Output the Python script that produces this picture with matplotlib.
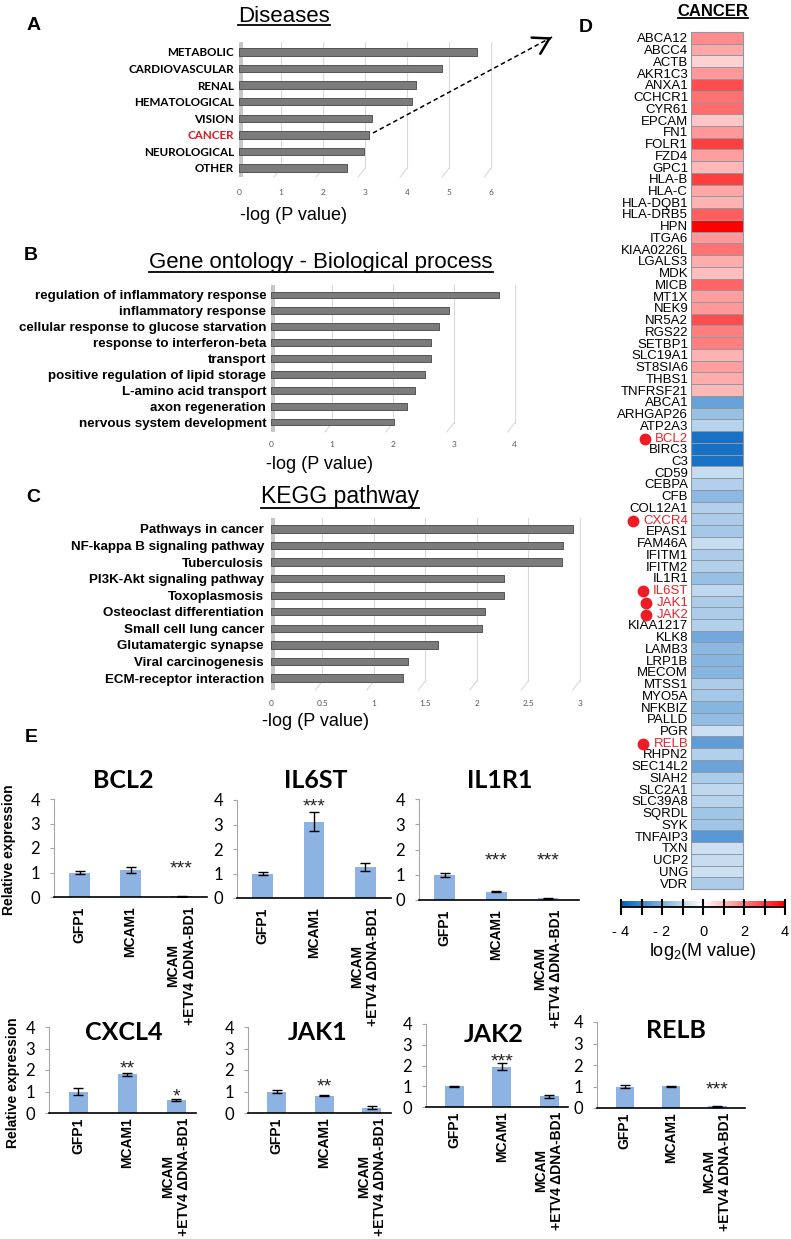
import numpy as np
import matplotlib
matplotlib.use('Agg')
import matplotlib.pyplot as plt
from matplotlib.colors import LinearSegmentedColormap
from matplotlib.lines import Line2D
from matplotlib.patches import FancyArrowPatch

# ---- data ----
disease_names = ['METABOLIC', 'CARDIOVASCULAR', 'RENAL', 'HEMATOLOGICAL',
                 'VISION', 'CANCER', 'NEUROLOGICAL', 'OTHER']
disease_vals = [5.66, 4.83, 4.21, 4.11, 3.17, 3.08, 2.98, 2.58]

go_terms = ['regulation of inflammatory response', 'inflammatory response',
            'cellular response to glucose starvation', 'response to interferon-beta',
            'transport', 'positive regulation of lipid storage',
            'L-amino acid transport', 'axon regeneration', 'nervous system development']
go_vals = [3.75, 2.92, 2.76, 2.62, 2.62, 2.53, 2.37, 2.23, 2.02]

kegg_terms = ['Pathways in cancer', 'NF-kappa B signaling pathway', 'Tuberculosis',
              'PI3K-Akt signaling pathway', 'Toxoplasmosis', 'Osteoclast differentiation',
              'Small cell lung cancer', 'Glutamatergic synapse', 'Viral carcinogenesis',
              'ECM-receptor interaction']
kegg_vals = [2.93, 2.84, 2.83, 2.26, 2.26, 2.08, 2.05, 1.62, 1.33, 1.28]

genes_up = ['ABCA12', 'ABCC4', 'ACTB', 'AKR1C3', 'ANXA1', 'CCHCR1', 'CYR61', 'EPCAM',
            'FN1', 'FOLR1', 'FZD4', 'GPC1', 'HLA-B', 'HLA-C', 'HLA-DQB1', 'HLA-DRB5',
            'HPN', 'ITGA6', 'KIAA0226L', 'LGALS3', 'MDK', 'MICB', 'MT1X', 'NEK9',
            'NR5A2', 'RGS22', 'SETBP1', 'SLC19A1', 'ST8SIA6', 'THBS1', 'TNFRSF21']
m_up = [1.8, 1.4, 0.7, 1.6, 2.8, 2.2, 2.3, 0.9, 1.6, 3.0, 1.5, 1.1, 3.0, 1.4, 1.2,
        2.5, 4.0, 1.6, 2.2, 1.3, 1.0, 2.4, 1.5, 1.6, 2.8, 2.0, 2.0, 1.2, 1.5, 1.3, 1.1]
genes_down = ['ABCA1', 'ARHGAP26', 'ATP2A3', 'BCL2', 'BIRC3', 'C3', 'CD59', 'CEBPA',
              'CFB', 'COL12A1', 'CXCR4', 'EPAS1', 'FAM46A', 'IFITM1', 'IFITM2', 'IL1R1',
              'IL6ST', 'JAK1', 'JAK2', 'KIAA1217', 'KLK8', 'LAMB3', 'LRP1B', 'MECOM',
              'MTSS1', 'MYO5A', 'NFKBIZ', 'PALLD', 'PGR', 'RELB', 'RHPN2', 'SEC14L2',
              'SIAH2', 'SLC2A1', 'SLC39A8', 'SQRDL', 'SYK', 'TNFAIP3', 'TXN', 'UCP2',
              'UNG', 'VDR']
m_down = [-2.4, -1.6, -1.1, -3.6, -3.6, -3.6, -0.9, -1.2, -1.8, -1.2, -1.3, -1.4,
          -0.9, -1.3, -1.2, -1.6, -1.0, -1.3, -1.3, -1.2, -2.2, -1.8, -1.9, -1.9,
          -1.3, -1.4, -1.9, -1.7, -0.8, -2.5, -1.2, -2.3, -1.3, -1.0, -1.1, -1.5,
          -1.5, -2.6, -0.8, -0.9, -0.8, -1.3]
marked_genes = ['BCL2', 'CXCR4', 'IL6ST', 'JAK1', 'JAK2', 'RELB']

qpcr_groups = ['GFP1', 'MCAM1', 'MCAM\n+ETV4 \u0394DNA-BD1']
qpcr_genes = ['BCL2', 'IL6ST', 'IL1R1', 'CXCL4', 'JAK1', 'JAK2', 'RELB']
qpcr_mean = [[1.0, 1.12, 0.04], [1.0, 3.12, 1.27], [1.0, 0.33, 0.06],
             [1.0, 1.80, 0.62], [1.0, 0.80, 0.25], [1.0, 1.93, 0.52], [1.0, 1.02, 0.08]]
qpcr_err = [[0.06, 0.12, 0.02], [0.08, 0.40, 0.17], [0.08, 0.03, 0.02],
            [0.17, 0.07, 0.04], [0.05, 0.03, 0.06], [0.02, 0.17, 0.08], [0.06, 0.02, 0.02]]
qpcr_sig = [['', '', '***'], ['', '***', ''], ['', '***', '***'],
            ['', '**', '*'], ['', '**', ''], ['', '***', ''], ['', '', '***']]
sig_height = [[0, 0, 1.43], [0, 4.0, 0], [0, 1.8, 1.8],
              [0, 2.37, 1.07], [0, 1.53, 0], [0, 2.5, 0], [0, 0, 1.16]]

# ---- setup ----
W, H = 791, 1239
plt.rcParams['font.family'] = ['Liberation Sans', 'DejaVu Sans']
plt.rcParams['mathtext.fontset'] = 'custom'
plt.rcParams['mathtext.rm'] = 'Liberation Sans'
plt.rcParams['mathtext.it'] = 'Liberation Sans:italic'
plt.rcParams['mathtext.bf'] = 'Liberation Sans:bold'

fig = plt.figure(figsize=(W / 100, H / 100), dpi=100)


def box(l, t, r, b):
    return [l / W, 1 - b / H, (r - l) / W, (b - t) / H]


def ftext(x, y, s, **kw):
    return fig.text(x / W, 1 - y / H, s, **kw)


underlined = []


def ul_title(x, y, s, uy, **kw):
    t = ftext(x, y, s, ha='center', va='baseline', **kw)
    underlined.append((t, uy))


def hbar_panel(rect, names, vals, xmax, ticks, ticklabels, y_first, y_last,
               lab_font, lab_size, tick_pad, lab_pad, red=None):
    l, t, r, b = rect
    ax = fig.add_axes(box(l, t, r, b))
    n = len(names)
    step = (y_last - y_first) / (n - 1)
    unit = (r - l) / xmax
    ax.barh(np.arange(n), vals, height=0.44, color='#7b7b7b', edgecolor='#555555',
            lw=0.7, zorder=3)
    ax.set_xlim(0, xmax)
    ax.set_ylim((b - y_first) / step, (t - y_first) / step)
    ax.axvspan(0, 4 / unit, color='#c8c8c8', zorder=1, lw=0)
    tail = 9 / (b - t)
    dx = 7 / unit
    tr = ax.get_xaxis_transform()
    for v in ticks:
        if v == 0:
            continue
        ax.plot([v, v], [1, tail], transform=tr, color='#d9d9d9', lw=0.8, zorder=0)
        ax.plot([v, v - dx], [tail, 0], transform=tr, color='#d9d9d9', lw=0.8,
                zorder=0, clip_on=False)
    for s in ax.spines.values():
        s.set_visible(False)
    ax.set_xticks(ticks)
    ax.set_xticklabels(ticklabels, fontsize=6, color='#595959', fontfamily='Lato')
    ax.tick_params(axis='x', length=0, pad=tick_pad)
    ax.set_yticks(np.arange(n))
    ax.set_yticklabels(names, fontsize=lab_size, fontweight='bold', fontfamily=lab_font)
    ax.tick_params(axis='y', length=0, pad=lab_pad)
    if red is not None:
        ax.get_yticklabels()[red].set_color('#e0191f')
    return ax


# ---- panel A ----
ftext(34, 25, 'A', fontsize=14, fontweight='bold', ha='center', va='center')
ul_title(284, 22, 'Diseases', 25, fontsize=16)
hbar_panel((239, 42, 506, 177), disease_names, disease_vals, 6.35, range(7),
           [str(i) for i in range(7)], 52, 168, 'Lato', 8.4, 8.5, 3.5,
           red=disease_names.index('CANCER'))
ftext(293, 215, '-log (P value)', fontsize=13, ha='center', va='center')

# dashed arrow toward panel D
x0, y0, x1, y1 = 373, 133, 554, 36
fig.add_artist(Line2D([x0 / W, x1 / W], [1 - y0 / H, 1 - y1 / H], transform=fig.transFigure,
                      color='black', lw=1.1, ls=(0, (3, 2))))
ang = np.arctan2(y0 - y1, x1 - x0)
fig.add_artist(FancyArrowPatch(((x1 - 8 * np.cos(ang)) / W, 1 - (y1 + 8 * np.sin(ang)) / H),
                               (x1 / W, 1 - y1 / H), transform=fig.transFigure,
                               arrowstyle='->,head_length=0.5,head_width=0.3',
                               mutation_scale=22, lw=1.8, color='black'))

# ---- panel B ----
ftext(31, 255, 'B', fontsize=14, fontweight='bold', ha='center', va='center')
ul_title(321, 268, 'Gene ontology - Biological process', 272, fontsize=16)
hbar_panel((271, 285, 536, 432), go_terms, go_vals, 4.35, range(5),
           [str(i) for i in range(5)], 295, 422, 'Liberation Sans', 9.6, 6.5, 3.5)
ftext(320, 465, '-log (P value)', fontsize=13, ha='center', va='center')

# ---- panel C ----
ftext(33, 497, 'C', fontsize=14, fontweight='bold', ha='center', va='center')
ul_title(340, 503, 'KEGG pathway', 508, fontsize=16.5)
hbar_panel((271, 518, 590, 690), kegg_terms, kegg_vals, 3.1, np.arange(0, 3.01, 0.5),
           ['0', '0.5', '1', '1.5', '2', '2.5', '3'], 529, 678, 'Liberation Sans', 9.6, 7, 5)
ftext(315, 722, '-log (P value)', fontsize=13, ha='center', va='center')

# ---- panel D ----
ftext(586, 27, 'D', fontsize=14, fontweight='bold', ha='center', va='center')
ul_title(713, 16, 'CANCER', 18, fontsize=12, fontweight='bold')
cmap = LinearSegmentedColormap.from_list('bwr_ref', ['#0062be', '#ffffff', '#ff0000'])
genes = genes_up + genes_down
mvals = np.array(m_up + m_down).reshape(-1, 1)
axh = fig.add_axes(box(691, 32, 743, 889))
axh.pcolormesh(mvals, cmap=cmap, vmin=-4, vmax=4, edgecolors='#8f99a4', linewidth=0.6)
axh.set_ylim(len(genes), 0)
axh.set_xlim(0, 1)
axh.set_xticks([])
axh.set_yticks(np.arange(len(genes)) + 0.5)
axh.set_yticklabels(genes, fontsize=9.5)
axh.tick_params(axis='y', length=0, pad=2)
for s in axh.spines.values():
    s.set_color('#8f99a4')
    s.set_linewidth(0.8)
for lbl in axh.get_yticklabels():
    if lbl.get_text() in marked_genes:
        lbl.set_color('#e3262b')

cax = fig.add_axes(box(621, 901, 785, 907))
cax.imshow(np.linspace(-4, 4, 256).reshape(1, -1), cmap=cmap, aspect='auto',
           extent=[-4, 4, 0, 1])
cax.set_xlim(-4, 4)
cax.set_yticks([])
cax.set_xticks(range(-4, 5))
cax.set_xticklabels(['- 4', '', '- 2', '', '0', '', '2', '', '4'], fontsize=10.5)
cax.tick_params(axis='x', direction='inout', length=12, width=1.5, pad=7)
for k in ['top', 'left', 'right']:
    cax.spines[k].set_visible(False)
cax.spines['bottom'].set_linewidth(1.3)
ftext(703, 952, 'log$_2$(M value)', fontsize=13, ha='center', va='center')

# ---- panel E ----
ftext(31, 737, 'E', fontsize=14, fontweight='bold', ha='center', va='center')
qpcr_layout = [  # rect, xlim, title position, category label size, pad
    ((54, 799, 207, 897), (-0.5, 2.5), (123, 780), 10, 7),
    ((237, 800, 391, 898), (-0.5, 2.5), (316, 780), 10, 7),
    ((419, 799, 579, 900), (-0.5, 2.6), (500, 780), 10, 7),
    ((49, 1027, 196, 1113), (-0.6, 2.4), (124, 1032), 10, 3),
    ((248, 1027, 391, 1113), (-0.6, 2.4), (318, 1032), 10, 3),
    ((426, 1024, 568, 1107), (-0.6, 2.4), (494, 1035), 10, 3),
    ((597, 1022, 745, 1108), (-0.6, 2.6), (676, 1030), 10, 3),
]
for i, gene in enumerate(qpcr_genes):
    rect, xl, (tx, ty), csize, cpad = qpcr_layout[i]
    ax = fig.add_axes(box(*rect))
    xs = np.arange(3)
    ax.bar(xs, qpcr_mean[i], width=0.4, color='#8db3e2', zorder=2)
    ax.errorbar(xs, qpcr_mean[i], yerr=qpcr_err[i], fmt='none', ecolor='black',
                elinewidth=1, capsize=3.5, capthick=1, zorder=3)
    ax.set_xlim(*xl)
    ax.set_ylim(0, 4)
    ax.set_yticks(range(5))
    ax.set_yticklabels([str(v) for v in range(5)], fontsize=12, fontfamily='Lato')
    ax.tick_params(axis='y', length=3, color='#a6a6a6', pad=7)
    ax.set_xticks(xs)
    ax.set_xticklabels(qpcr_groups, rotation=90, fontsize=csize, fontweight='bold',
                       ha='center', va='top', multialignment='center')
    ax.tick_params(axis='x', length=0, pad=cpad)
    ax.spines['top'].set_visible(False)
    ax.spines['right'].set_visible(False)
    ax.spines['left'].set_color('#a6a6a6')
    ax.spines['bottom'].set_linewidth(1.2)
    ax.patch.set_alpha(0)
    for j in range(3):
        if qpcr_sig[i][j]:
            ax.annotate(qpcr_sig[i][j], (j, sig_height[i][j]), xytext=(0, -8),
                        textcoords='offset points', ha='center', va='baseline',
                        fontsize=14, color='#222222', annotation_clip=False)
    ftext(tx, ty, gene, fontsize=18, fontweight='bold', fontfamily='Lato',
          ha='center', va='center')

ftext(9, 850, 'Relative expression', fontsize=10, fontweight='bold', rotation=90,
      ha='center', va='center')
ftext(13, 1083, 'Relative expression', fontsize=10, fontweight='bold', rotation=90,
      ha='center', va='center')

# ---- underlines and gene markers need the rendered text extents ----
fig.canvas.draw()
rend = fig.canvas.get_renderer()
for t, uy in underlined:
    bb = t.get_window_extent(rend)
    fig.add_artist(Line2D([bb.x0 / W, bb.x1 / W], [1 - uy / H, 1 - uy / H],
                          transform=fig.transFigure, color='black', lw=1.3))
for lbl in axh.get_yticklabels():
    if lbl.get_text() in marked_genes:
        bb = lbl.get_window_extent(rend)
        cy = (bb.y0 + bb.y1) / 2
        fig.add_artist(Line2D([(bb.x0 - 10) / W], [cy / H], transform=fig.transFigure,
                              marker='o', ms=7.5, color='#ee1c24', lw=0))

fig.savefig('out.png', dpi=100)
